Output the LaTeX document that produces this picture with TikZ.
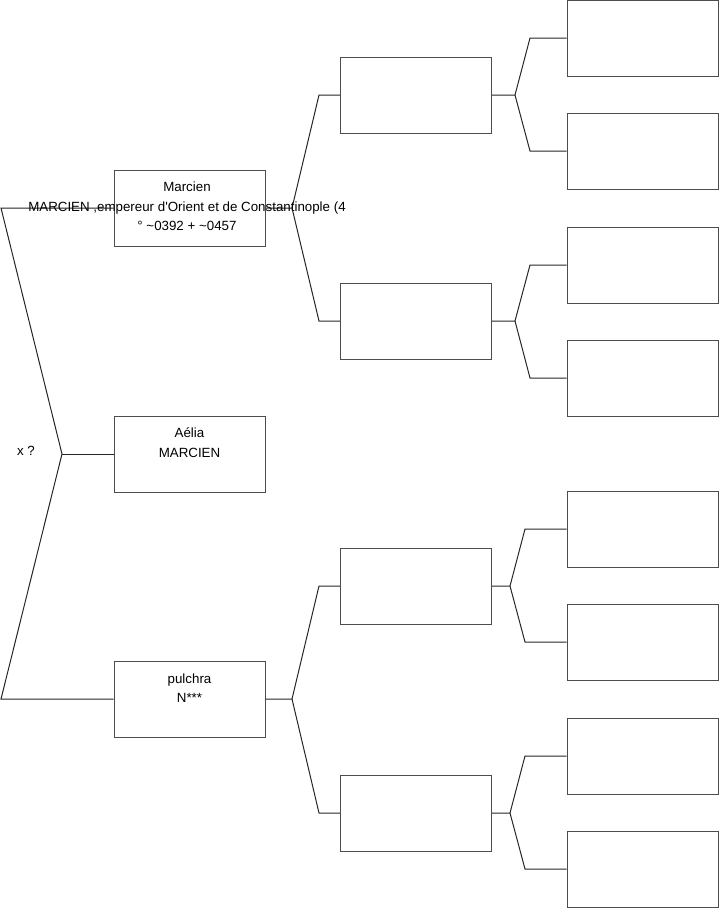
\documentclass[tikz,border=0pt]{standalone}
\usepackage{fontspec}
\setmainfont{Liberation Sans}
\begin{document}
\begin{tikzpicture}[x=1pt,y=-1pt,
  box/.style={draw=black!70,line width=1pt,minimum width=151pt,minimum height=76pt,inner sep=0pt,fill=white},
  txt/.style={font=\fontsize{13.33}{19.5}\selectfont,align=center,inner sep=0pt,text=black},
  wire/.style={draw=black!85,line width=1pt}]
\useasboundingbox (0,0) rectangle (719,908);
% column 1
\node[box] (m1) at (189.5,208) {};
\node[box] (a1) at (189.5,454) {};
\node[box] (p1) at (189.5,699) {};
% column 2
\node[box] (b1) at (416,95) {};
\node[box] (b2) at (416,321) {};
\node[box] (b3) at (416,586) {};
\node[box] (b4) at (416,813) {};
% column 3
\node[box] (c1) at (642.5,38) {};
\node[box] (c2) at (642.5,151) {};
\node[box] (c3) at (642.5,265) {};
\node[box] (c4) at (642.5,378) {};
\node[box] (c5) at (642.5,529) {};
\node[box] (c6) at (642.5,642) {};
\node[box] (c7) at (642.5,756) {};
\node[box] (c8) at (642.5,869) {};
% fork coordinates
\coordinate (r0) at (62,454);
\coordinate (r1) at (1,208);
\coordinate (r2) at (1,699);
\coordinate (f1) at (292,208);
\coordinate (f1a) at (319,95);
\coordinate (f1b) at (319,321);
\coordinate (f3) at (292,699);
\coordinate (f3a) at (319,586);
\coordinate (f3b) at (319,813);
\coordinate (g1) at (515,95);
\coordinate (g1a) at (530,38);
\coordinate (g1b) at (530,151);
\coordinate (g2) at (515,321);
\coordinate (g2a) at (530,265);
\coordinate (g2b) at (530,378);
\coordinate (g3) at (510,586);
\coordinate (g3a) at (525,529);
\coordinate (g3b) at (525,642);
\coordinate (g4) at (510,813);
\coordinate (g4a) at (525,756);
\coordinate (g4b) at (525,869);
% connectors
\draw[wire] (m1.west) -- (r1) -- (r0) -- (r2) -- (p1.west);
\draw[wire] (r0) -- (a1.west);
\draw[wire] (m1.east) -- (f1) -- (f1a) -- (b1.west);
\draw[wire] (f1) -- (f1b) -- (b2.west);
\draw[wire] (p1.east) -- (f3) -- (f3a) -- (b3.west);
\draw[wire] (f3) -- (f3b) -- (b4.west);
\draw[wire] (b1.east) -- (g1) -- (g1a) -- (c1.west);
\draw[wire] (g1) -- (g1b) -- (c2.west);
\draw[wire] (b2.east) -- (g2) -- (g2a) -- (c3.west);
\draw[wire] (g2) -- (g2b) -- (c4.west);
\draw[wire] (b3.east) -- (g3) -- (g3a) -- (c5.west);
\draw[wire] (g3) -- (g3b) -- (c6.west);
\draw[wire] (b4.east) -- (g4) -- (g4a) -- (c7.west);
\draw[wire] (g4) -- (g4b) -- (c8.west);
% texts
\node[txt,anchor=north] (tm) at (187,181.7) {Marcien\\MARCIEN ,empereur d\textquotesingle Orient et de Constantinople (4\\° \textasciitilde0392 + \textasciitilde0457};
\node[txt,anchor=north] (ta) at (189.5,427.7) {Aélia\\MARCIEN};
\node[txt,anchor=north] (tp) at (189.5,673.3) {pulchra\\N***};
\node[txt,anchor=base] (tx) at (26,455) {x ?};
\end{tikzpicture}
\end{document}
